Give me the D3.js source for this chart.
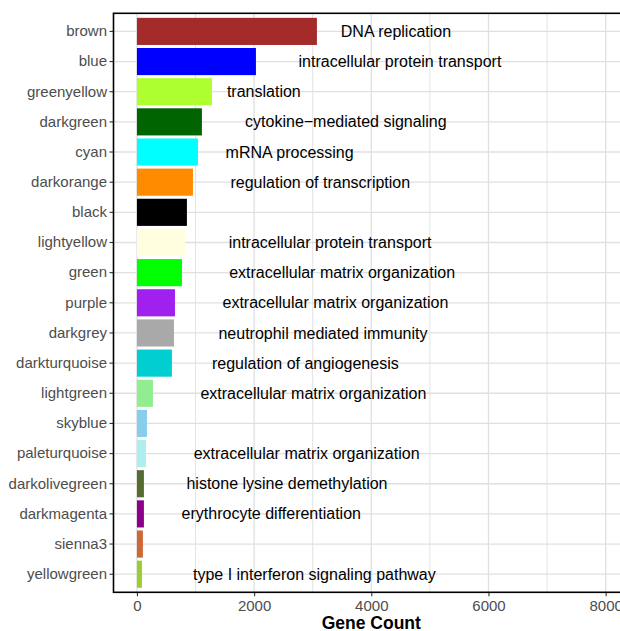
<!DOCTYPE html>
<html>
<head>
<meta charset="utf-8">
<script src="https://cdn.jsdelivr.net/npm/d3@7"></script>
<style>
  html, body { margin: 0; padding: 0; background: #fff; }
  svg { display: block; font-family: "Liberation Sans", Arial, Helvetica, sans-serif; }
</style>
</head>
<body>
<svg id="chart" width="620" height="631"></svg>
<script>
// Module names (also the bar colours), top to bottom
const modules = ["brown", "blue", "greenyellow", "darkgreen", "cyan", "darkorange", "black",
  "lightyellow", "green", "purple", "darkgrey", "darkturquoise", "lightgreen", "skyblue",
  "paleturquoise", "darkolivegreen", "darkmagenta", "sienna3", "yellowgreen"];

// Number of genes per module
const geneCounts = [3072, 2031, 1280, 1109, 1041, 956, 853, 819, 768, 649, 632, 597,
  273, 171, 154, 119, 119, 102, 85];

// Top enriched term per module ("" = none)
const terms = ["DNA replication", "intracellular protein transport", "translation",
  "cytokine\u2212mediated signaling", "mRNA processing", "regulation of transcription", "",
  "intracellular protein transport", "extracellular matrix organization",
  "extracellular matrix organization", "neutrophil mediated immunity",
  "regulation of angiogenesis", "extracellular matrix organization", "",
  "extracellular matrix organization", "histone lysine demethylation",
  "erythrocyte differentiation", "", "type I interferon signaling pathway"];

// Gene-count coordinate at which each term label is centred
const termPos = [4421, 4489, 2166, 3565, 2606, 3130, 0, 3297, 3502, 3388, 3175, 2874,
  3011, 0, 2896, 2561, 2293, 0, 3028];

// R colour names mapped to hex
const colourHex = {
  brown: "#A52A2A", blue: "#0000FF", greenyellow: "#ADFF2F", darkgreen: "#006400",
  cyan: "#00FFFF", darkorange: "#FF8C00", black: "#000000", lightyellow: "#FFFFE0",
  green: "#00FF00", purple: "#A020F0", darkgrey: "#A9A9A9", darkturquoise: "#00CED1",
  lightgreen: "#90EE90", skyblue: "#87CEEB", paleturquoise: "#AFEEEE",
  darkolivegreen: "#556B2F", darkmagenta: "#8B008B", sienna3: "#CD6839", yellowgreen: "#9ACD32"
};

const xTicks = [0, 2000, 4000, 6000, 8000];
const xMinor = [1000, 3000, 5000, 7000];

const data = modules.map((m, i) => ({ module: m, count: geneCounts[i], term: terms[i], pos: termPos[i] }));

const svg = d3.select("#chart");
const panel = { left: 113.5, top: 13.3, right: 629.1, bottom: 592.3 };

const x = d3.scaleLinear().domain([-400, 8400]).range([panel.left, panel.right]);
const y = d3.scaleBand().domain(modules).range([panel.top, panel.bottom])
  .paddingInner(0.1).paddingOuter(0.15);

const clip = svg.append("defs").append("clipPath").attr("id", "panelClip")
  .append("rect")
  .attr("x", panel.left).attr("y", panel.top)
  .attr("width", panel.right - panel.left).attr("height", panel.bottom - panel.top);

const g = svg.append("g").attr("clip-path", "url(#panelClip)");

// grid
g.selectAll("line.minor").data(xMinor).join("line")
  .attr("x1", d => x(d)).attr("x2", d => x(d))
  .attr("y1", panel.top).attr("y2", panel.bottom)
  .attr("stroke", "#E3E3E3").attr("stroke-width", 1);
g.selectAll("line.majorx").data(xTicks).join("line")
  .attr("x1", d => x(d)).attr("x2", d => x(d))
  .attr("y1", panel.top).attr("y2", panel.bottom)
  .attr("stroke", "#E0E0E0").attr("stroke-width", 1.3);
g.selectAll("line.majory").data(modules).join("line")
  .attr("x1", panel.left).attr("x2", panel.right)
  .attr("y1", d => y(d) + y.bandwidth() / 2).attr("y2", d => y(d) + y.bandwidth() / 2)
  .attr("stroke", "#E0E0E0").attr("stroke-width", 1.3);

// bars
g.selectAll("rect.bar").data(data).join("rect")
  .attr("x", x(0))
  .attr("y", d => y(d.module))
  .attr("width", d => x(d.count) - x(0))
  .attr("height", y.bandwidth())
  .attr("fill", d => colourHex[d.module]);

// term labels
g.selectAll("text.term").data(data.filter(d => d.term)).join("text")
  .attr("x", d => x(d.pos))
  .attr("y", d => y(d.module) + y.bandwidth() / 2)
  .attr("dy", "0.35em")
  .attr("text-anchor", "middle")
  .attr("font-size", "16px")
  .attr("fill", "#000")
  .text(d => d.term);

// axes
const yAxis = svg.append("g").attr("transform", `translate(${panel.left},0)`)
  .call(d3.axisLeft(y).tickSize(4).tickSizeOuter(0).tickPadding(2.5));
yAxis.select(".domain").remove();
yAxis.selectAll(".tick line").attr("stroke", "#333").attr("stroke-width", 1.1);
yAxis.selectAll(".tick text").attr("font-size", "15px").attr("fill", "#4D4D4D")
  .attr("font-family", "Liberation Sans, Arial, sans-serif");

const xAxis = svg.append("g").attr("transform", `translate(0,${panel.bottom})`)
  .call(d3.axisBottom(x).tickValues(xTicks).tickSize(4).tickSizeOuter(0).tickPadding(3.7)
    .tickFormat(d3.format("d")));
xAxis.select(".domain").remove();
xAxis.selectAll(".tick line").attr("stroke", "#333").attr("stroke-width", 1.1);
xAxis.selectAll(".tick text").attr("font-size", "15px").attr("fill", "#4D4D4D")
  .attr("font-family", "Liberation Sans, Arial, sans-serif");

// panel border
svg.append("rect")
  .attr("x", panel.left).attr("y", panel.top)
  .attr("width", panel.right - panel.left).attr("height", panel.bottom - panel.top)
  .attr("fill", "none").attr("stroke", "#000").attr("stroke-width", 1.6);

// axis title
svg.append("text")
  .attr("x", (panel.left + panel.right) / 2)
  .attr("y", 629)
  .attr("text-anchor", "middle")
  .attr("font-size", "17.5px")
  .attr("font-weight", "bold")
  .attr("fill", "#000")
  .text("Gene Count");
</script>
</body>
</html>
